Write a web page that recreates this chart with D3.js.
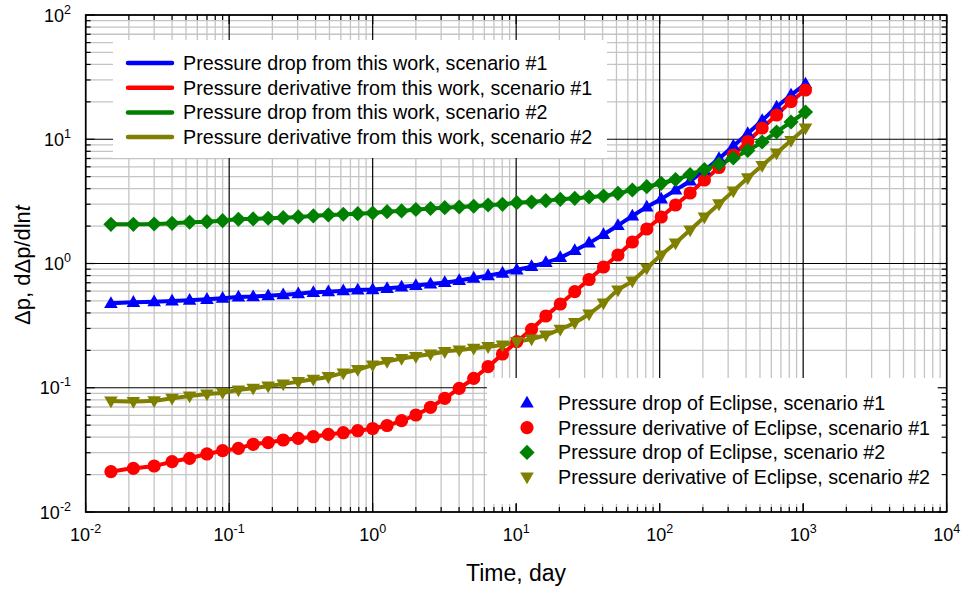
<!DOCTYPE html>
<html><head><meta charset="utf-8">
<script src="https://cdn.jsdelivr.net/npm/d3@7"></script>
<style>
body{margin:0;background:#fff}
svg{display:block}
text{font-family:Arial,"Liberation Sans",sans-serif;fill:#000}
</style>
</head><body>
<svg id="c" width="963" height="592"></svg>
<script>
// ---- data ----
const time = [0.015,0.0215,0.030,0.040,0.053,0.070,0.090,0.116,0.147,0.187,0.238,0.303,0.386,0.491,0.624,0.787,
  1.0,1.26,1.59,2.0,2.53,3.18,4.01,5.06,6.37,8.03,10.1,12.8,16.1,20.3,25.6,32.2,40.6,51.2,64.5,81.3,102.5,
  129,163,205,259,326,411,518,653,823,1038];
const dropS1 = [0.478,0.487,0.493,0.499,0.506,0.515,0.525,0.538,0.541,0.551,0.561,0.571,0.586,0.593,0.604,0.612,
  0.617,0.629,0.647,0.665,0.684,0.703,0.730,0.764,0.800,0.838,0.887,0.946,1.019,1.118,1.273,1.462,1.712,2.022,
  2.412,2.850,3.305,3.903,4.613,5.605,7.000,8.826,11.13,14.16,18.17,22.70,27.85];
const derivS1 = [0.0211,0.02247,0.02345,0.0254,0.02705,0.02931,0.03114,0.03256,0.03507,0.03612,0.03797,0.03919,
  0.04036,0.0422,0.04346,0.0451,0.04699,0.04968,0.05431,0.06036,0.06963,0.08226,0.0990,0.1191,0.1477,0.1869,
  0.2348,0.2954,0.378,0.4721,0.5929,0.7436,0.9372,1.171,1.489,1.895,2.367,2.956,3.693,4.699,5.925,7.466,9.592,
  12.32,15.68,20.1,24.9];
const dropS2 = [2.068,2.068,2.080,2.107,2.147,2.171,2.212,2.270,2.283,2.313,2.339,2.369,2.413,2.458,2.490,2.518,
  2.550,2.613,2.647,2.721,2.772,2.814,2.850,2.888,2.957,2.996,3.086,3.126,3.201,3.286,3.347,3.429,3.493,3.673,
  3.904,4.149,4.419,4.742,5.202,5.709,6.324,7.066,8.118,9.504,11.44,13.77,16.57];
const derivS2 = [0.0782,0.0775,0.0786,0.0822,0.0858,0.0891,0.0913,0.0959,0.0990,0.1033,0.1072,0.1119,0.1169,
  0.1227,0.1314,0.1401,0.1524,0.1627,0.1720,0.1785,0.1869,0.1950,0.2012,0.2077,0.2139,0.2208,0.2348,0.2469,
  0.2658,0.2954,0.3339,0.3923,0.4809,0.6119,0.7230,0.9202,1.171,1.462,1.860,2.367,3.015,3.832,4.880,6.148,
  7.745,9.769,12.32];
const xTickExps = [-2,-1,0,1,2,3,4];
const yTickExps = [-2,-1,0,1,2];
const xTitle = "Time, day";
const lineLabels = ["Pressure drop from this work, scenario #1","Pressure derivative from this work, scenario #1",
  "Pressure drop from this work, scenario #2","Pressure derivative from this work, scenario #2"];
const markerLabels = ["Pressure drop of Eclipse, scenario #1","Pressure derivative of Eclipse, scenario #1",
  "Pressure drop of Eclipse, scenario #2","Pressure derivative of Eclipse, scenario #2"];
const colors = ["#0000ff","#ff0000","#008000","#808000"];
const shapes = ["tri","circle","diamond","tridown"];

// ---- layout ----
const X0=85.67, X1=946.67, Y0=15, Y1=512;
const svg = d3.select("#c");
const x = d3.scaleLog().domain([1e-2,1e4]).range([X0,X1]);
const y = d3.scaleLog().domain([1e-2,1e2]).range([Y1,Y0]);
const isMajor = v => Math.abs(Math.log10(v) - Math.round(Math.log10(v))) < 1e-9;
const xt = x.ticks(), yt = y.ticks();

svg.append("rect").attr("width",963).attr("height",592).attr("fill","#fff");

// grid
const g = svg.append("g");
g.selectAll(".gxm").data(xt.filter(v=>!isMajor(v))).join("line")
  .attr("x1",d=>x(d)).attr("x2",d=>x(d)).attr("y1",Y0).attr("y2",Y1)
  .attr("stroke","#c4c4c4").attr("stroke-width",1.3);
g.selectAll(".gym").data(yt.filter(v=>!isMajor(v))).join("line")
  .attr("y1",d=>y(d)).attr("y2",d=>y(d)).attr("x1",X0).attr("x2",X1)
  .attr("stroke","#c4c4c4").attr("stroke-width",1.3);
g.selectAll(".gxM").data(xt.filter(isMajor)).join("line")
  .attr("x1",d=>x(d)).attr("x2",d=>x(d)).attr("y1",Y0).attr("y2",Y1)
  .attr("stroke","#000").attr("stroke-width",1.2);
g.selectAll(".gyM").data(yt.filter(isMajor)).join("line")
  .attr("y1",d=>y(d)).attr("y2",d=>y(d)).attr("x1",X0).attr("x2",X1)
  .attr("stroke","#000").attr("stroke-width",1.2);

// series
const seriesVals = [dropS1, derivS1, dropS2, derivS2];
const line = d3.line().x((d,i)=>x(time[i])).y(d=>y(d)).curve(d3.curveMonotoneX);
seriesVals.forEach((vals,k)=>{
  svg.append("path").attr("d",line(vals)).attr("fill","none")
    .attr("stroke",colors[k]).attr("stroke-width",4).attr("stroke-linejoin","round");
});
function shapePath(s){
  if(s==="tri") return "M0,-7.2L6.8,4.6L-6.8,4.6Z";
  if(s==="tridown") return "M0,7.2L6.8,-4.6L-6.8,-4.6Z";
  if(s==="diamond") return "M0,-7.6L7.6,0L0,7.6L-7.6,0Z";
  return d3.symbol().type(d3.symbolCircle).size(Math.PI*6.6*6.6)();
}
seriesVals.forEach((vals,k)=>{
  svg.append("g").selectAll("path").data(vals).join("path")
    .attr("d",shapePath(shapes[k]))
    .attr("transform",(d,i)=>`translate(${x(time[i])},${y(d)})`)
    .attr("fill",colors[k]);
});

// legend 1 (lines)
svg.append("rect").attr("x",113).attr("y",40).attr("width",494).attr("height",118).attr("fill","#fff");
const leg1 = svg.append("g");
lineLabels.forEach((t,k)=>{
  const yy = 63 + k*24.7;
  leg1.append("line").attr("x1",128).attr("x2",172).attr("y1",yy).attr("y2",yy)
    .attr("stroke",colors[k]).attr("stroke-width",4.5).attr("stroke-linecap","round");
  leg1.append("text").attr("x",183).attr("y",yy).attr("dy","0.35em")
    .attr("font-size",19.7).text(t);
});
// legend 2 (markers)
svg.append("rect").attr("x",487).attr("y",378).attr("width",459).attr("height",126).attr("fill","#fff");
const leg2 = svg.append("g");
markerLabels.forEach((t,k)=>{
  const yy = 403 + k*24.7;
  leg2.append("path").attr("d",shapePath(shapes[k])).attr("transform",`translate(527,${yy})`).attr("fill",colors[k]);
  leg2.append("text").attr("x",558).attr("y",yy).attr("dy","0.35em")
    .attr("font-size",19.7).text(t);
});

// ticks (inward, all four sides)
const ax = svg.append("g");
function ticks(vals, len){
  vals.forEach(v=>{
    const px = x(v);
    ax.append("line").attr("x1",px).attr("x2",px).attr("y1",Y1).attr("y2",Y1-len).attr("stroke","#000").attr("stroke-width",1.2);
    ax.append("line").attr("x1",px).attr("x2",px).attr("y1",Y0).attr("y2",Y0+len).attr("stroke","#000").attr("stroke-width",1.2);
  });
}
function yticks(vals, len){
  vals.forEach(v=>{
    const py = y(v);
    ax.append("line").attr("y1",py).attr("y2",py).attr("x1",X0).attr("x2",X0+len).attr("stroke","#000").attr("stroke-width",1.2);
    ax.append("line").attr("y1",py).attr("y2",py).attr("x1",X1).attr("x2",X1-len).attr("stroke","#000").attr("stroke-width",1.2);
  });
}
ticks(xt.filter(isMajor),9); ticks(xt.filter(v=>!isMajor(v)),5);
yticks(yt.filter(isMajor),9); yticks(yt.filter(v=>!isMajor(v)),5);
svg.append("rect").attr("x",X0).attr("y",Y0).attr("width",X1-X0).attr("height",Y1-Y0)
  .attr("fill","none").attr("stroke","#000").attr("stroke-width",1.6);

// tick labels
xTickExps.forEach(e=>{
  const t = svg.append("text").attr("x",x(Math.pow(10,e))).attr("y",541).attr("text-anchor","middle").attr("font-size",18);
  t.append("tspan").text("10");
  t.append("tspan").attr("dy",-8).attr("font-size",12.5).text(String(e));
});
yTickExps.forEach(e=>{
  const t = svg.append("text").attr("x",71).attr("y",y(Math.pow(10,e))+6.5).attr("text-anchor","end").attr("font-size",18);
  t.append("tspan").text("10");
  t.append("tspan").attr("dy",-8).attr("font-size",12.5).text(String(e));
});

// axis titles
svg.append("text").attr("x",516).attr("y",581).attr("text-anchor","middle").attr("font-size",23).text(xTitle);
const yt2 = svg.append("text").attr("transform","translate(30,265) rotate(-90)").attr("text-anchor","middle").attr("font-size",22);
yt2.append("tspan").text("\u0394p, d\u0394p/dln");
yt2.append("tspan").attr("font-style","italic").text("t");
</script>
</body></html>
